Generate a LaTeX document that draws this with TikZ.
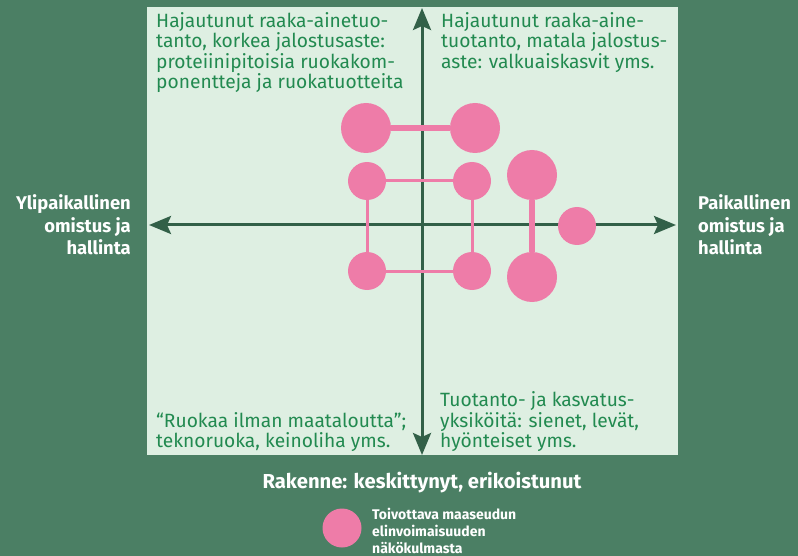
\documentclass[tikz,border=0pt]{standalone}
\usepackage{fontspec}
\setmainfont{Fira Sans}
\usetikzlibrary{arrows.meta}
\definecolor{bggreen}{RGB}{75,127,100}
\definecolor{panelgreen}{RGB}{222,239,226}
\definecolor{axisgreen}{RGB}{50,96,72}
\definecolor{textgreen}{RGB}{34,138,80}
\definecolor{dotpink}{RGB}{238,124,168}

\begin{document}
\begin{tikzpicture}[x=1pt,y=-1pt]
 % background and panel
  \fill[bggreen] (0,0) rectangle (798,556);
  \fill[panelgreen] (147,7) rectangle (678,455);
  \useasboundingbox (0,0) rectangle (798,556);

  \tikzset{bigdot/.style={circle,fill=dotpink,minimum size=50pt,inner sep=0pt},
           smalldot/.style={circle,fill=dotpink,minimum size=38pt,inner sep=0pt},
           thinlink/.style={dotpink,line width=3pt},
           thicklink/.style={dotpink,line width=6.5pt},
           axisline/.style={axisgreen,line width=3pt,
             {Stealth[length=22pt,width=18pt,inset=4pt]}-{Stealth[length=22pt,width=18pt,inset=4pt]}},
           quadtext/.style={textgreen,align=left,inner sep=0pt,
             font=\fontsize{19.2}{20.5}\selectfont},
           axislabel/.style={white,inner sep=0pt,
             font=\bfseries\fontsize{18.4}{22.5}\selectfont}}

 % axis
  \coordinate (west) at (149,225);
  \coordinate (east) at (676,225);
  \coordinate (north) at (422,8);
  \coordinate (south) at (422,455);
  \draw[axisline] (west) -- (east);
  \draw[axisline] (south) -- (north);

 % quadrant texts
  \node[quadtext,anchor=north west] (tl) at (156,12)
    {Hajautunut raaka-ainetuo-\\tanto, korkea jalostusaste:\\proteiinipitoisia ruokakom-\\ponentteja ja ruokatuotteita};
  \node[quadtext,anchor=north west] (tr) at (441,12)
    {Hajautunut raaka-aine-\\tuotanto, matala jalostus-\\aste: valkuaiskasvit yms.};
  \node[quadtext,anchor=south west] (bl) at (156,452)
    {“Ruokaa ilman maataloutta”;\\teknoruoka, keinoliha yms.};
  \node[quadtext,anchor=south west] (br) at (440,452)
    {Tuotanto- ja kasvatus-\\yksiköitä: sienet, levät,\\hyönteiset yms.};

 % axis labels
  \node[axislabel,align=right,anchor=east] (lbl-west) at (131,225)
    {Ylipaikallinen\\omistus ja\\hallinta};
  \node[axislabel,align=left,anchor=west] (lbl-east) at (698,225)
    {Paikallinen\\omistus ja\\hallinta};
  \node[axislabel,font=\bfseries\fontsize{20.2}{24}\selectfont] (lbl-south) at (422,483)
    {Rakenne: keskittynyt, erikoistunut};

 % pink dots
  \node[bigdot] (ptl) at (366,128) {};
  \node[bigdot] (ptr) at (475,128) {};
  \node[smalldot] (pml) at (367,181) {};
  \node[smalldot] (pmr) at (472,181) {};
  \node[smalldot] (pbl) at (367,271) {};
  \node[smalldot] (pbr) at (472,271) {};
  \node[bigdot] (prt) at (532,175) {};
  \node[bigdot] (prb) at (532,277) {};
  \node[smalldot] (pr) at (577,226) {};

  \draw[thicklink] (ptl) -- (ptr);
  \draw[thinlink] (pml) -- (pmr);
  \draw[thinlink] (pml) -- (pbl);
  \draw[thinlink] (pmr) -- (pbr);
  \draw[thinlink] (pbl) -- (pbr);
  \draw[thicklink] (prt) -- (prb);

 % legend
  \node[smalldot,minimum size=39pt] (key) at (342,528) {};
  \node[white,align=left,anchor=west,inner sep=0pt,
        font=\bfseries\fontsize{14}{17}\selectfont] (keytext) at (372,531)
    {Toivottava maaseudun\\elinvoimaisuuden\\näkökulmasta};
\end{tikzpicture}
\end{document}
